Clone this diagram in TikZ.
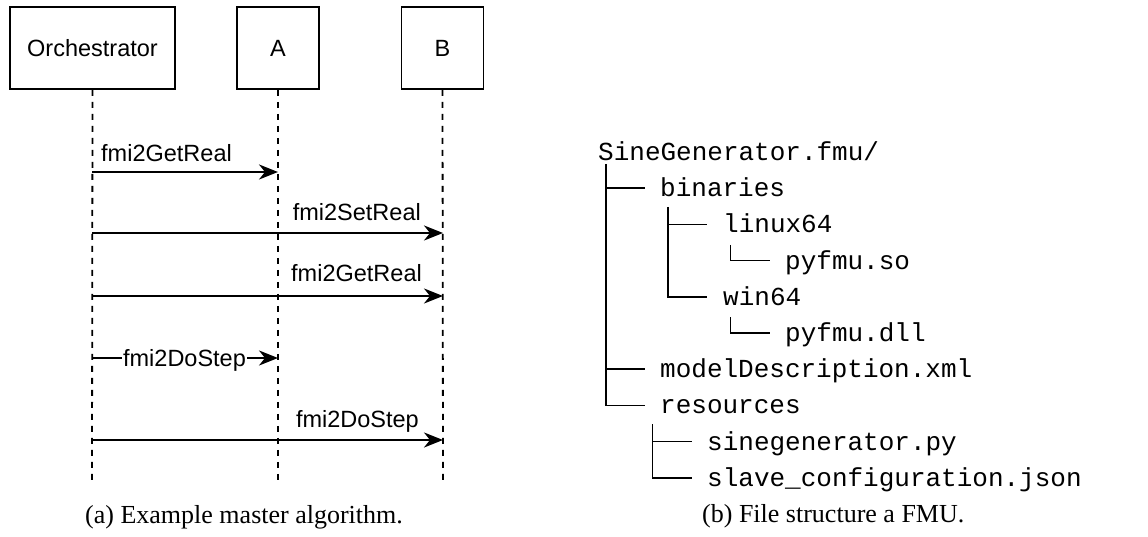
\documentclass[tikz,border=0pt]{standalone}
\usepackage{fontspec}
\setmainfont{Liberation Serif}
\newfontfamily\diagsans{Liberation Sans}
\newfontfamily\treemono{Liberation Mono}
\usetikzlibrary{arrows.meta}

\tikzset{
  actor/.style={draw, line width=1.8pt, minimum height=82pt, inner sep=0pt,
    font=\diagsans\fontsize{23.5}{28}\selectfont},
  lifeline/.style={line width=1.8pt, dash pattern=on 6pt off 6pt},
  msg/.style={line width=2pt, -{Stealth[length=19pt, width=15pt, inset=6pt]}},
  msglabel/.style={inner sep=0pt, font=\diagsans\fontsize{23.5}{28}\selectfont},
  treeline/.style={line width=1.7pt},
  entry/.style={inner sep=0pt, anchor=base west, font=\treemono\fontsize{26}{30}\selectfont},
  caption/.style={inner sep=0pt, anchor=base west, font=\fontsize{26}{30}\selectfont}
}

\begin{document}
\begin{tikzpicture}[x=1pt, y=-1pt]
\useasboundingbox (0,0) rectangle (1148,537);

% ---------- sequence diagram ----------
\node[actor, minimum width=165pt] (orch) at (92.5,48) {Orchestrator};
\node[actor, minimum width=82pt] (pa) at (278,48) {A};
\node[actor, minimum width=82pt] (pb) at (442.5,48) {B};

\coordinate (orchEnd) at (92,480);
\coordinate (paEnd) at (278,480);
\coordinate (pbEnd) at (443,480);
\draw[lifeline] (orch.south) -- (orchEnd);
\draw[lifeline] (pa.south) -- (paEnd);
\draw[lifeline] (pb.south) -- (pbEnd);

% message rows
\foreach \n/\y in {1/172, 2/233, 3/296, 4/358, 5/440} {
  \coordinate (o\n) at (92,\y);
  \coordinate (a\n) at (278,\y);
  \coordinate (b\n) at (443,\y);
}

\draw[msg] (o1) -- (a1);
\node[msglabel, anchor=base west] (l1) at (101,162) {fmi2GetReal};

\draw[msg] (o2) -- (b2);
\node[msglabel, anchor=base east] (l2) at (421,221) {fmi2SetReal};

\draw[msg] (o3) -- (b3);
\node[msglabel, anchor=base east] (l3) at (422,282) {fmi2GetReal};

\draw[msg] (o4) -- (a4);
\node[msglabel, fill=white, inner xsep=1pt, anchor=base] (l4) at (184.5,366) {fmi2DoStep};

\draw[msg] (o5) -- (b5);
\node[msglabel, anchor=base east] (l5) at (419,427) {fmi2DoStep};

\node[caption] (capa) at (85,523) {(a) Example master algorithm.};

% ---------- file tree ----------
% column width 15.6pt, first column at x = 598, rows every 36.2pt
\node[entry] (root) at (598,160.5) {SineGenerator.fmu/};
\node[entry] (bin)  at (660,196.7) {binaries};
\node[entry] (lin)  at (723,232.9) {linux64};
\node[entry] (so)   at (785,269.1) {pyfmu.so};
\node[entry] (win)  at (723,305.3) {win64};
\node[entry] (dll)  at (785,341.5) {pyfmu.dll};
\node[entry] (xml)  at (660,377.7) {modelDescription.xml};
\node[entry] (res)  at (660,413.9) {resources};
\node[entry] (py)   at (707,450.1) {sinegenerator.py};
\node[entry] (json) at (707,486.3) {slave\_configuration.json};

% branches of SineGenerator.fmu/
\draw[treeline] (605.8,164) -- (605.8,405.4) -- (645,405.4);
\draw[treeline] (605.8,188.2) -- (645,188.2);
\draw[treeline] (605.8,369.2) -- (645,369.2);
% branches of binaries
\draw[treeline] (668.2,207) -- (668.2,296.8) -- (707,296.8);
\draw[treeline] (668.2,224.4) -- (707,224.4);
% single files below linux64 and win64
\draw[treeline] (730.6,245) -- (730.6,260.6) -- (770,260.6);
\draw[treeline] (730.6,317) -- (730.6,333) -- (770,333);
% branches of resources
\draw[treeline] (652.6,424) -- (652.6,477.8) -- (692,477.8);
\draw[treeline] (652.6,441.6) -- (692,441.6);

\node[caption] (capb) at (702,522) {(b) File structure a FMU.};
\end{tikzpicture}
\end{document}
